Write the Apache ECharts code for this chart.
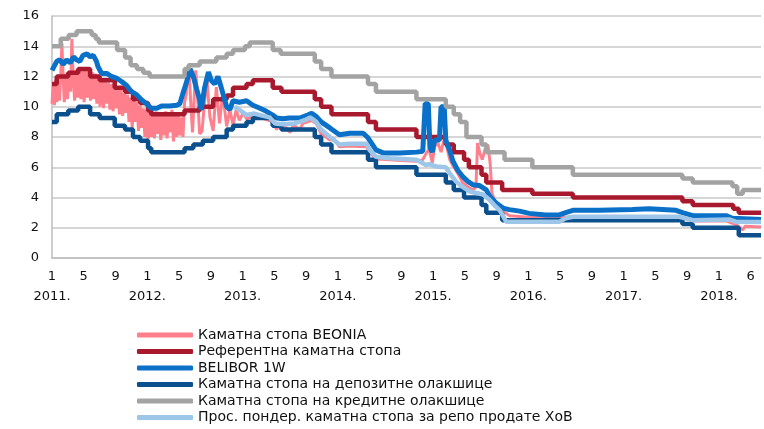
<!DOCTYPE html>
<html>
<head>
<meta charset="utf-8">
<title>Каматне стопе</title>
<script src="https://cdn.jsdelivr.net/npm/echarts@6/dist/echarts.min.js"></script>
<style>
  html, body { margin: 0; padding: 0; background: #fff; }
  #chart_1 { width: 764px; height: 429px; }
</style>
</head>
<body>
<div id="chart_1"></div>
<script>
// x = months since January 2011
var xTickLabels = ['1\n2011.', '5', '9', '1\n2012.', '5', '9', '1\n2013.', '5', '9',
	'1\n2014.', '5', '9', '1\n2015.', '5', '9', '1\n2016.', '5', '9',
	'1\n2017.', '5', '9', '1\n2018.', '6'];

var seriesNames = ['Каматна стопа BEONIA', 'Референтна каматна стопа', 'BELIBOR 1W',
	'Каматна стопа на депозитне олакшице', 'Каматна стопа на кредитне олакшице',
	'Прос. пондер. каматна стопа за репо продате ХоВ'];

var beonia = [
	[0,10.2],[0.15,11.4],[0.3,10.1],[0.45,11.8],[0.6,10.3],[0.8,12.0],[0.95,10.4],[1.1,12.1],[1.25,14.2],[1.4,12.0],
	[1.55,10.3],[1.75,12.2],[1.95,10.5],[2.15,12.3],[2.35,11.0],[2.5,14.5],[2.65,12.2],[2.85,10.4],[3.05,12.4],[3.25,10.6],
	[3.45,12.5],[3.65,10.5],[3.85,12.6],[4.05,10.3],[4.25,12.6],[4.45,10.6],[4.65,12.5],[4.85,10.4],[5.05,12.3],[5.25,10.5],
	[5.45,12.2],[5.65,10.2],[5.85,11.9],[6.05,10.0],[6.3,11.8],[6.5,9.9],[6.7,11.7],[6.9,10.2],[7.1,11.6],[7.3,9.8],
	[7.5,11.5],[7.7,9.7],[7.9,11.3],[8.1,9.9],[8.3,11.2],[8.5,9.5],[8.7,11.1],[8.9,9.4],[9.1,10.9],[9.3,9.6],
	[9.5,10.8],[9.7,9.0],[9.9,10.6],[10.1,8.6],[10.3,10.4],[10.5,9.0],[10.7,10.3],[10.9,8.4],[11.1,10.1],[11.3,8.6],
	[11.5,9.9],[11.7,8.0],[11.9,9.8],[12.1,7.8],[12.3,9.7],[12.5,8.0],[12.7,9.6],[12.9,7.9],[13.1,9.7],[13.3,8.2],
	[13.5,9.5],[13.7,7.8],[13.9,9.6],[14.1,8.1],[14.3,9.7],[14.5,7.9],[14.7,9.5],[14.9,8.3],[15.1,9.8],[15.3,7.7],
	[15.5,9.6],[15.7,8.0],[15.9,9.4],[16.1,8.1],[16.3,9.3],[16.5,8.0],[16.7,10.3],[16.9,10.8],[17.1,12.6],[17.3,12.0],
	[17.5,10.0],[17.7,8.3],[17.9,10.5],[18.1,12.4],[18.3,11.0],[18.6,8.2],[18.9,8.4],[19.2,10.2],[19.5,12.0],[19.7,10.5],
	[19.9,9.3],[20.3,8.4],[20.7,11.3],[21.1,8.9],[21.5,10.9],[22.0,8.7],[22.4,9.8],[22.8,8.8],[23.2,9.8],[23.6,9.1],
	[24.1,9.6],[24.5,9.2],[25.3,9.35],[26.2,9.3],[27.0,9.15],[27.8,9.0],[28.3,8.5],[28.7,8.9],[29.5,8.6],[30.0,8.3],
	[30.4,8.8],[31.2,8.5],[31.6,8.9],[32.2,9.0],[32.7,9.1],[33.3,8.9],[33.9,8.2],[34.5,8.0],[35.0,7.8],[35.5,7.9],
	[36.2,7.35],[37.5,7.4],[39.6,7.35],[40.0,7.0],[40.8,6.55],[42.5,6.5],[44.0,6.45],[45.9,6.4],[46.7,6.5],[47.1,6.9],
	[47.5,7.2],[47.9,6.3],[48.2,7.4],[48.6,7.6],[49.0,7.0],[49.4,7.9],[49.7,7.4],[50.1,6.5],[50.5,6.1],[51.1,5.6],
	[51.7,5.0],[52.4,4.7],[53.0,4.5],[53.4,4.7],[53.6,7.6],[53.9,6.9],[54.2,6.5],[54.6,7.3],[54.9,7.5],[55.2,6.2],
	[55.4,4.3],[55.9,3.6],[56.8,3.1],[57.6,2.8],[60.1,2.7],[63.9,2.65],[64.7,2.7],[65.6,2.75],[79.0,2.75],[79.8,2.6],
	[80.7,2.45],[84.9,2.45],[85.7,2.3],[86.5,2.1],[87.0,1.85],[87.3,2.1],[89.3,2.05]
];

// step series: value holds from the given month on
var refRate = [
	[0,11.5],[0.6,12.0],[2.05,12.25],[3.3,12.5],[4.8,12.0],[6.0,11.75],[7.9,11.25],[9.2,11.0],[10.2,10.5],[11.1,10.25],
	[12.1,9.75],[12.5,9.5],[16.7,9.75],[18.6,10.0],[20.3,10.5],[22.0,10.75],[22.8,11.25],[24.5,11.5],[25.3,11.75],[27.8,11.25],
	[28.9,11.0],[33.1,10.5],[33.9,10.0],[35.2,9.5],[39.8,9.0],[40.8,8.5],[45.9,8.0],[49.6,7.5],[50.6,7.0],[51.9,6.5],
	[52.5,6.0],[54.1,5.5],[54.7,5.0],[56.7,4.5],[60.5,4.25],[65.6,4.0],[79.4,3.75],[80.7,3.5],[85.8,3.25],[86.5,3.0],[89.3,3.0]
];

var belibor = [
	[0,12.4],[0.6,13.0],[1.0,13.1],[1.4,12.8],[1.85,13.1],[2.3,12.9],[2.7,13.3],[3.1,13.1],[3.5,13.0],[3.9,13.4],
	[4.4,13.5],[4.8,13.3],[5.2,13.4],[5.6,13.0],[5.8,12.65],[6.25,12.2],[6.9,12.2],[7.5,12.0],[8.1,11.9],[8.8,11.65],
	[9.4,11.4],[10.0,11.0],[10.65,10.8],[11.3,10.45],[11.9,10.2],[12.5,9.9],[13.2,9.9],[13.8,10.05],[14.8,10.05],[15.7,10.1],
	[16.1,10.2],[16.5,10.9],[16.9,11.55],[17.4,12.5],[17.8,12.0],[18.2,11.2],[18.6,10.45],[18.8,9.8],[19.2,11.2],[19.7,12.3],
	[20.1,11.7],[20.5,11.5],[20.9,12.0],[21.3,11.3],[22.0,10.0],[22.4,9.8],[22.8,10.4],[23.6,10.3],[24.5,10.4],[25.3,10.1],
	[26.2,9.9],[27.0,9.7],[27.8,9.45],[28.3,9.25],[29.1,9.2],[29.9,9.25],[31.2,9.25],[32.2,9.45],[32.7,9.56],[33.3,9.35],
	[33.9,9.0],[35.0,8.6],[36.2,8.15],[37.5,8.25],[39.2,8.25],[39.8,7.95],[40.8,7.15],[41.7,6.95],[43.8,6.95],[45.9,7.0],
	[46.7,7.05],[47.0,10.2],[47.4,10.2],[47.6,7.3],[47.9,7.0],[48.2,7.8],[48.8,7.8],[49.0,10.0],[49.4,10.0],[49.6,7.8],
	[50.1,7.1],[50.5,6.4],[51.1,5.8],[51.7,5.4],[52.4,5.05],[53.0,4.85],[53.8,4.8],[54.7,4.5],[55.1,4.1],[55.9,3.65],
	[56.8,3.3],[57.6,3.2],[58.9,3.1],[60.1,2.95],[62.2,2.85],[63.9,2.85],[64.7,3.0],[65.6,3.15],[68.9,3.15],[73.1,3.2],
	[75.2,3.25],[78.6,3.15],[79.4,3.0],[80.7,2.8],[84.9,2.8],[85.7,2.62],[89.3,2.55]
];

var depositRate = [
	[0,9.0],[0.6,9.5],[2.05,9.75],[3.3,10.0],[4.8,9.5],[6.0,9.25],[7.9,8.75],[9.2,8.5],[10.2,8.0],[11.1,7.75],
	[12.1,7.25],[12.5,7.0],[16.7,7.25],[17.8,7.5],[19.0,7.75],[20.3,8.0],[22.0,8.5],[22.8,8.75],[24.5,9.0],[25.3,9.25],
	[27.8,8.75],[28.9,8.5],[33.1,8.0],[33.9,7.5],[35.2,7.0],[39.8,6.5],[40.8,6.0],[45.9,5.5],[49.6,5.0],[50.6,4.5],
	[51.9,4.0],[54.1,3.5],[54.7,3.0],[56.7,2.5],[79.4,2.25],[80.7,2.0],[86.5,1.5],[89.3,1.5]
];

var creditRate = [
	[0,14.0],[1.1,14.5],[2.1,14.75],[3.1,15.0],[5.0,14.75],[5.5,14.5],[5.9,14.25],[8.2,13.75],[9.2,13.25],[9.9,12.75],
	[10.7,12.5],[11.5,12.25],[12.3,12.0],[16.7,12.5],[17.2,12.75],[18.6,13.0],[20.7,13.25],[22.0,13.5],[22.8,13.75],[24.3,14.0],
	[24.9,14.25],[27.8,13.75],[28.8,13.5],[33.1,13.0],[33.9,12.5],[35.2,12.0],[39.8,11.5],[40.8,11.0],[45.9,10.5],[49.6,10.0],
	[50.6,9.5],[51.4,9.0],[52.2,8.0],[54.1,7.5],[54.7,7.0],[57.0,6.5],[60.5,6.0],[65.6,5.5],[79.4,5.25],[80.7,5.0],
	[85.7,4.75],[86.3,4.25],[87.0,4.5],[89.3,4.5]
];

var repoRate = [
	[23.0,10.0],[23.6,9.8],[24.5,9.45],[25.5,9.55],[26.2,9.45],[27.4,9.3],[28.1,8.9],[29.1,8.85],[30.5,8.9],[31.2,9.0],
	[32.0,9.15],[32.5,9.3],[33.3,9.0],[33.9,8.5],[35.0,8.0],[36.2,7.5],[37.5,7.55],[39.6,7.55],[40.0,7.15],[40.8,6.7],
	[42.5,6.6],[45.9,6.5],[47.1,6.15],[47.5,6.2],[48.4,6.05],[49.6,6.0],[50.1,5.6],[50.9,5.05],[51.7,4.7],[52.6,4.4],
	[54.3,4.2],[55.1,3.85],[55.7,3.5],[56.4,3.15],[57.0,2.6],[57.2,2.4],[60.5,2.4],[63.9,2.4],[64.7,2.62],[65.6,2.73],
	[79.0,2.73],[79.8,2.62],[80.7,2.5],[85.3,2.55],[86.1,2.4],[89.3,2.38]
];

var colors = ['#ff808c', '#a8192e', '#0a70c8', '#0b4f8c', '#a3a3a3', '#9dc6e8'];

function lineSeries(i, data, width, step) {
	return {
		name: seriesNames[i],
		type: 'line',
		data: data,
		step: step ? 'end' : false,
		symbol: 'none',
		lineStyle: { color: colors[i], width: width },
		itemStyle: { color: colors[i] }
	};
}

var myChart = echarts.init(document.getElementById('chart_1'));
var option = {
	animation: false,
	color: colors,
	grid: { left: 52, top: 16, right: 2, bottom: 171 },
	legend: {
		orient: 'vertical',
		left: 132,
		top: 323,
		height: 110,
		icon: 'roundRect',
		itemWidth: 56,
		itemHeight: 5,
		itemGap: 2.5,
		textStyle: { fontFamily: 'DejaVu Sans', fontSize: 14, color: '#111', lineHeight: 14 },
		data: seriesNames
	},
	xAxis: {
		type: 'value',
		min: 0,
		max: 89.3,
		interval: 4,
		axisLine: { lineStyle: { color: '#bdbdbd', width: 1.5 } },
		axisTick: { show: false },
		splitLine: { show: false },
		axisLabel: {
			margin: 9,
			fontFamily: 'DejaVu Sans',
			fontSize: 13,
			lineHeight: 20,
			color: '#111',
			formatter: function (val) {
				if (val % 4 !== 0) return '';
				return xTickLabels[val / 4] || '';
			}
		}
	},
	yAxis: {
		type: 'value',
		min: 0,
		max: 16,
		interval: 2,
		axisLine: { show: true, lineStyle: { color: '#bdbdbd', width: 1.5 } },
		axisTick: { show: false },
		splitLine: { lineStyle: { color: '#c8c8c8', width: 1.5 } },
		axisLabel: { margin: 13, fontFamily: 'DejaVu Sans', fontSize: 13, color: '#111' }
	},
	series: [
		lineSeries(0, beonia, 3, false),
		lineSeries(1, refRate, 4.5, true),
		lineSeries(2, belibor, 5, false),
		lineSeries(3, depositRate, 4.5, true),
		lineSeries(4, creditRate, 4.5, true),
		lineSeries(5, repoRate, 4.5, false)
	]
};
myChart.setOption(option);
window.addEventListener('resize', function () {
	myChart.resize();
});
</script>
</body>
</html>
